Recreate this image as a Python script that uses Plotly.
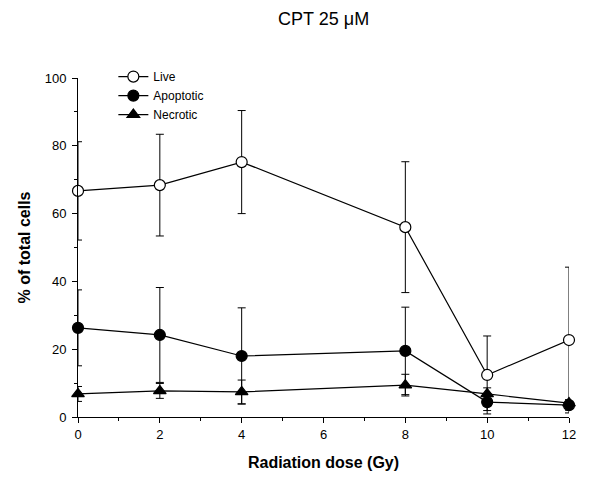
import plotly.graph_objects as go

dose = [0, 2, 4, 8, 10, 12]
live = [66.7, 68.4, 75.2, 56.0, 12.4, 22.7]
live_err = [14.5, 15.0, 15.2, 19.3, 11.5, 21.5]
apoptotic = [26.3, 24.2, 18.0, 19.5, 4.4, 3.5]
apoptotic_err = [11.2, 14.0, 14.2, 12.9, 2.5, 1.5]
necrotic = [6.8, 7.7, 7.4, 9.4, 6.8, 4.1]
necrotic_err = [2.2, 2.2, 3.5, 3.2, 1.8, 1.0]

font_family = "Liberation Sans, Arial, sans-serif"

fig = go.Figure()

def add_series(name, y, err, symbol, fill):
    fig.add_trace(go.Scatter(
        x=dose, y=y, name=name, mode="lines+markers",
        line=dict(color="black", width=1.2),
        marker=dict(symbol=symbol, size=11, color=fill,
                    line=dict(color="black", width=1.2)),
        error_y=dict(type="data", array=err, visible=True,
                     color="black", thickness=1, width=4),
        cliponaxis=False,
    ))

add_series("Live", live, live_err, "circle", "white")
add_series("Apoptotic", apoptotic, apoptotic_err, "circle", "black")
add_series("Necrotic", necrotic, necrotic_err, "triangle-up", "black")

fig.update_layout(
    width=590, height=479,
    margin=dict(l=78, r=21, t=78, b=62),
    paper_bgcolor="white", plot_bgcolor="white",
    font=dict(family=font_family, size=13, color="black"),
    title=dict(text="CPT 25 μM", x=0.5485, xanchor="center", y=0.962, yanchor="middle",
               font=dict(size=18, family=font_family)),
    showlegend=True,
    legend=dict(x=0.072, y=1.047, xanchor="left", yanchor="top",
                bgcolor="rgba(0,0,0,0)", font=dict(size=12),
                tracegroupgap=0, itemwidth=30),
    xaxis=dict(range=[0, 12], tickvals=[0, 2, 4, 6, 8, 10, 12], automargin=False,
               showgrid=False, zeroline=False, showline=True, linecolor="black", linewidth=1,
               ticks="outside", ticklen=5, tickcolor="black",
               minor=dict(tickvals=[1, 3, 5, 7, 9, 11], ticks="outside", ticklen=3, tickcolor="black"),
               title=dict(text="<b>Radiation dose (Gy)</b>", font=dict(size=16), standoff=16),
               tickfont=dict(size=13)),
    yaxis=dict(range=[0, 100], tickvals=[0, 20, 40, 60, 80, 100], automargin=False,
               showgrid=False, zeroline=False, showline=True, linecolor="black", linewidth=1,
               ticks="outside", ticklen=5, tickcolor="black", ticklabelstandoff=3,
               minor=dict(tickvals=[10, 30, 50, 70, 90], ticks="outside", ticklen=3, tickcolor="black"),
               title=dict(text="<b>% of total cells</b>", font=dict(size=16), standoff=10),
               tickfont=dict(size=13)),
)

fig.write_html("out.html")
